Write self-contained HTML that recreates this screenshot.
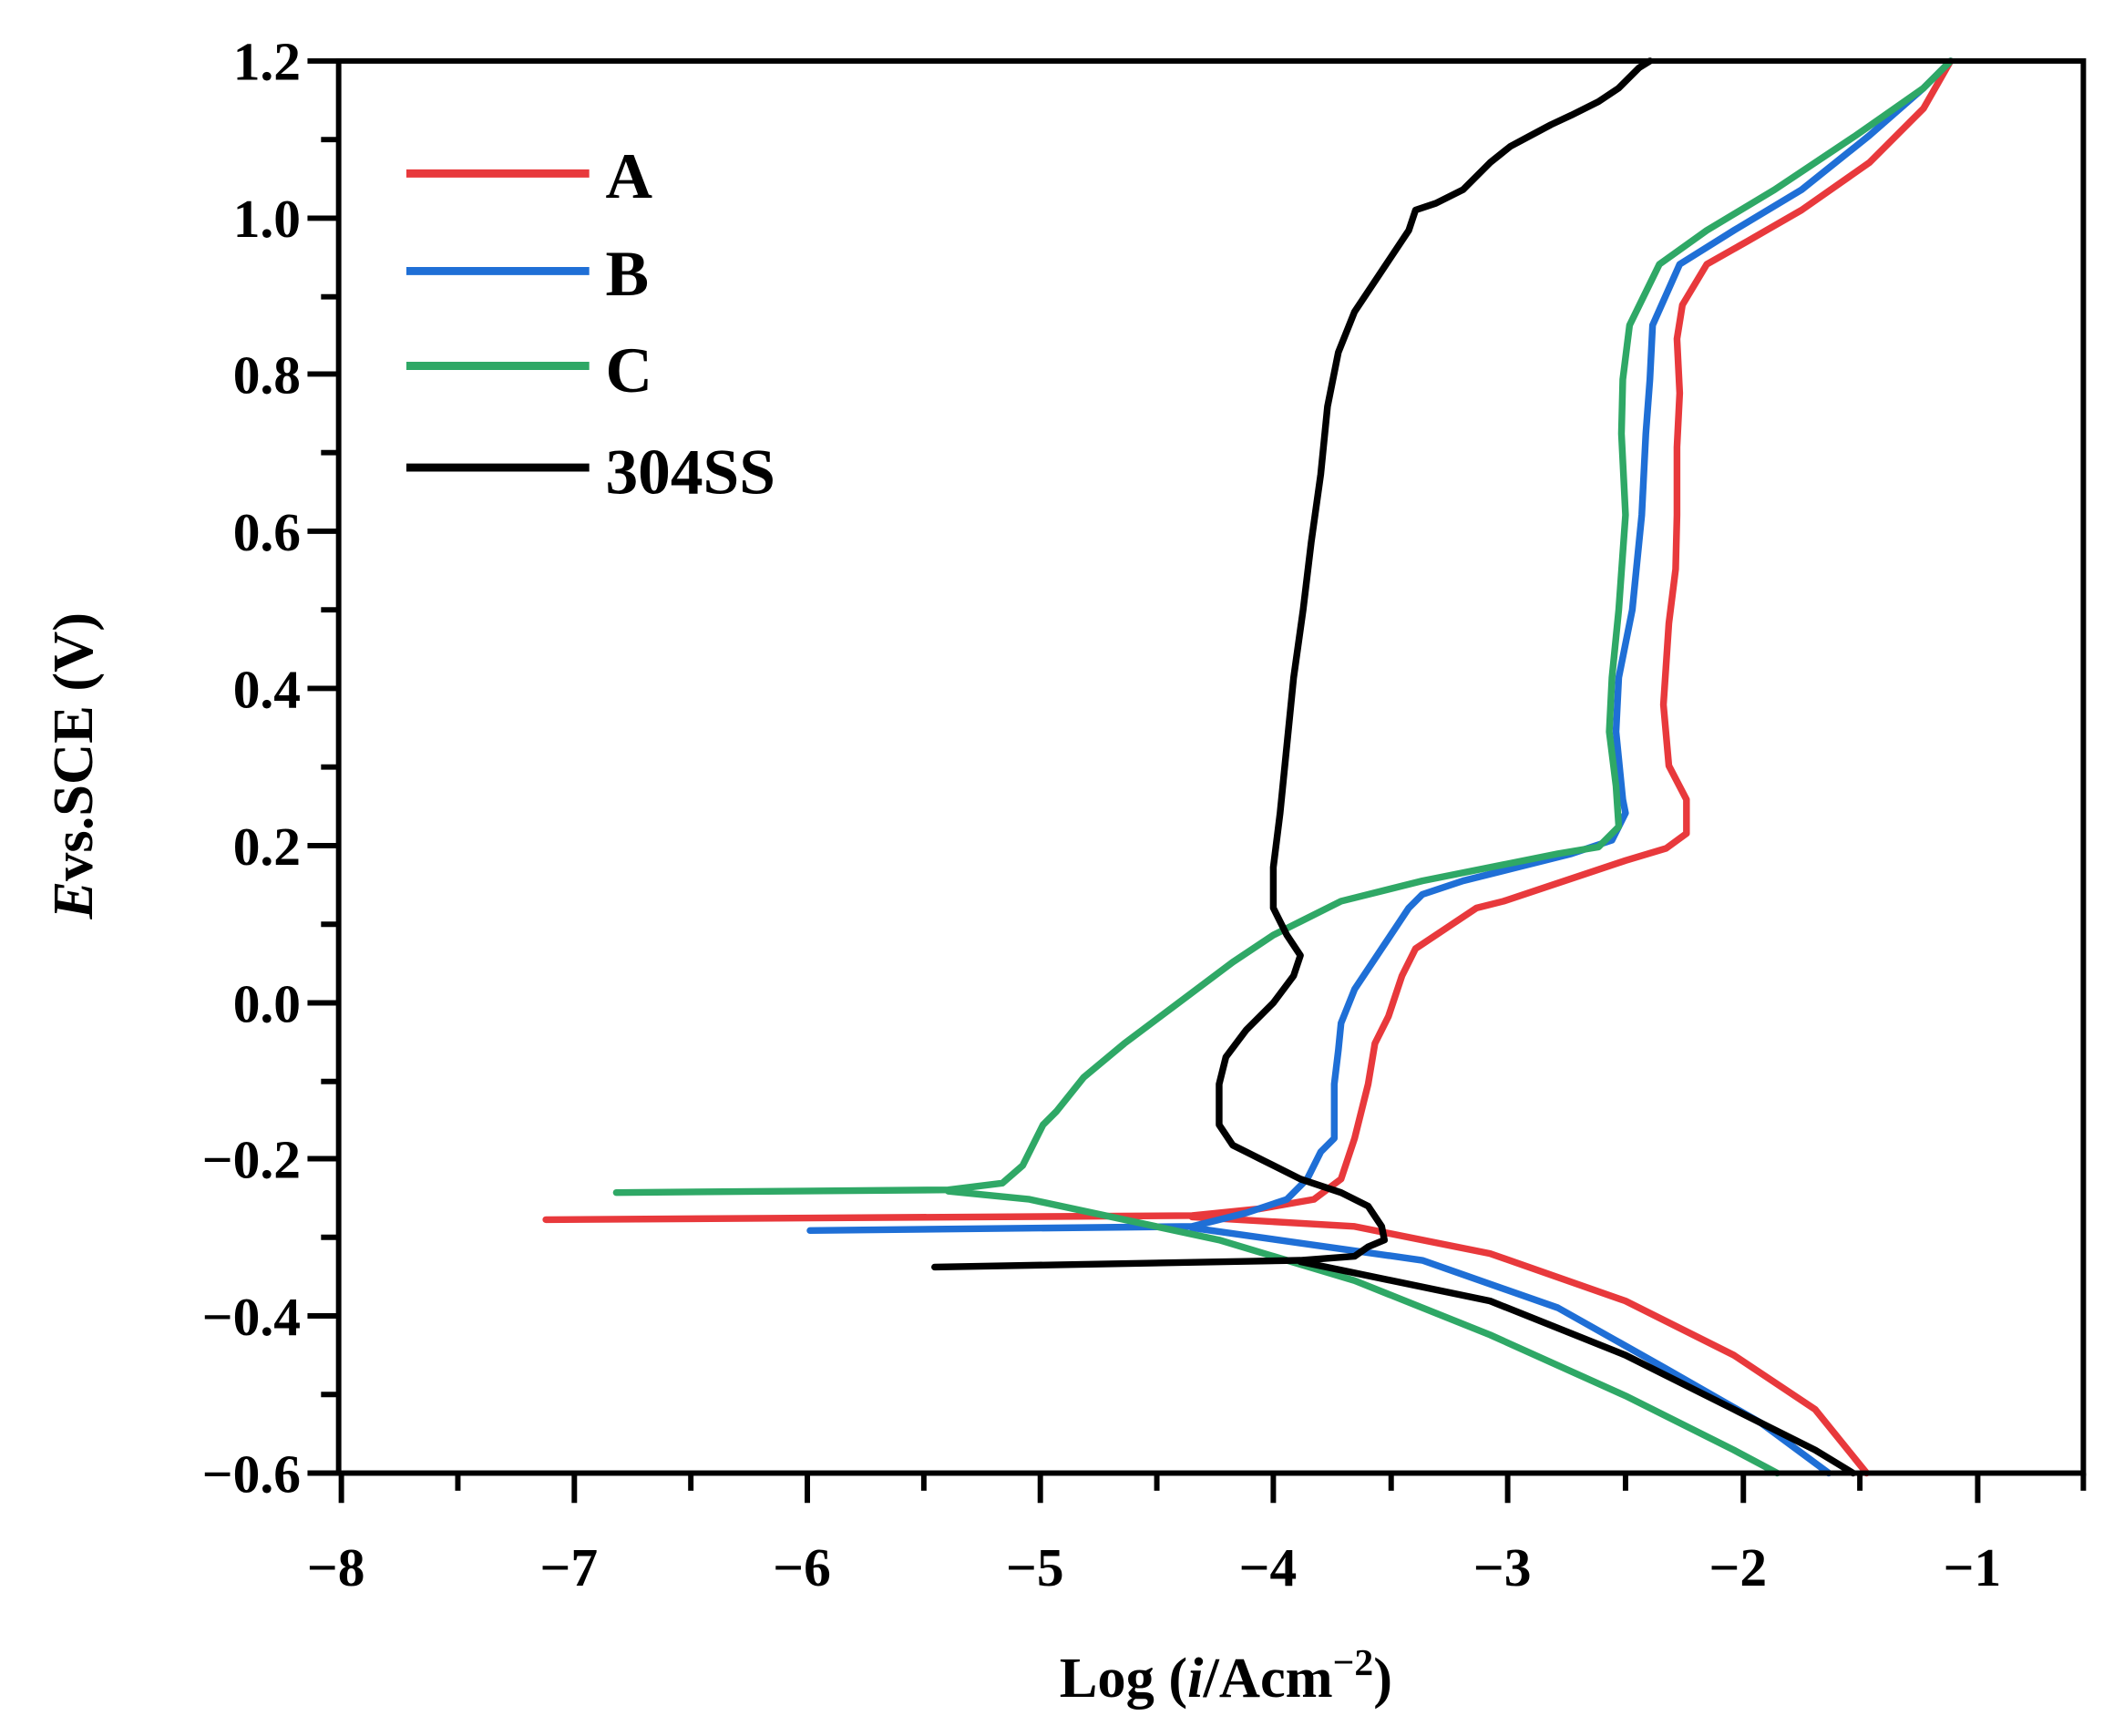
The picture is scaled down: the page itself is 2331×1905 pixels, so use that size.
<!DOCTYPE html>
<html><head><meta charset="utf-8"><style>html,body{margin:0;padding:0;background:#fff}svg{display:block}</style></head>
<body>
<svg width="2331" height="1905" viewBox="0 0 1568 1281" preserveAspectRatio="none" xmlns="http://www.w3.org/2000/svg" font-family="Liberation Serif, serif" font-weight="bold">
<rect width="1568" height="1281" fill="#fff"/>
<g fill="none" stroke-linejoin="round" stroke-linecap="round" stroke-width="5">
<polyline stroke="#e8393c" points="403,900 880,897 930,892 970,885 990,870 1000,840 1010,800 1015,770 1025,750 1035,720 1045,700 1060,690 1075,680 1090,670 1110,665 1140,655 1170,645 1200,635 1230,626 1245,615 1245,590 1232,565 1228,520 1232,460 1237,420 1238,380 1238,330 1240,290 1238,250 1242,225 1260,195 1290,178 1330,155 1380,120 1420,80 1440,45"/>
<polyline stroke="#e8393c" points="880,898 1000,905 1100,925 1200,960 1280,1000 1340,1040 1378,1087"/>
<polyline stroke="#1f6fd6" points="598,908 880,905 920,895 950,885 965,870 975,850 985,840 985,800 988,775 990,755 1000,730 1020,700 1040,670 1050,660 1080,650 1120,640 1160,630 1190,620 1200,600 1198,590 1193,540 1195,500 1205,450 1212,380 1215,320 1218,280 1220,240 1240,195 1280,170 1330,140 1380,100 1420,65 1440,45"/>
<polyline stroke="#1f6fd6" points="880,906 1050,930 1150,965 1230,1010 1300,1050 1350,1087"/>
<polyline stroke="#2fa866" points="455,880 700,878 740,873 755,860 770,830 780,820 800,795 830,770 870,740 910,710 940,690 960,680 990,665 1050,650 1100,640 1150,630 1180,625 1195,610 1193,580 1188,540 1190,500 1195,450 1200,380 1197,320 1198,280 1203,240 1225,195 1260,170 1310,140 1370,100 1420,65 1440,45"/>
<polyline stroke="#2fa866" points="700,879 760,885 900,915 1000,945 1100,985 1200,1030 1280,1070 1312,1087"/>
<polyline stroke="#000" points="690,935 960,930 1000,927 1010,920 1022,915 1020,905 1010,890 990,880 960,870 930,855 910,845 900,830 900,800 905,780 920,760 940,740 955,720 960,705 950,690 940,670 940,640 945,600 950,550 955,500 962,450 968,400 975,350 980,300 988,260 1000,230 1020,200 1040,170 1045,155 1060,150 1080,140 1090,130 1100,120 1115,108 1130,100 1145,92 1160,85 1180,75 1195,65 1210,50 1218,45"/>
<polyline stroke="#000" points="960,931 1100,960 1200,1000 1280,1040 1340,1070 1368,1087"/>
</g>
<rect x="250" y="45" width="1288" height="1042" fill="none" stroke="#000" stroke-width="4"/>
<g stroke="#000" stroke-width="4">
<line x1="227" y1="45" x2="250" y2="45"/><line x1="237" y1="103" x2="250" y2="103"/>
<line x1="227" y1="161" x2="250" y2="161"/><line x1="237" y1="219" x2="250" y2="219"/>
<line x1="227" y1="276" x2="250" y2="276"/><line x1="237" y1="334" x2="250" y2="334"/>
<line x1="227" y1="392" x2="250" y2="392"/><line x1="237" y1="450" x2="250" y2="450"/>
<line x1="227" y1="508" x2="250" y2="508"/><line x1="237" y1="566" x2="250" y2="566"/>
<line x1="227" y1="624" x2="250" y2="624"/><line x1="237" y1="682" x2="250" y2="682"/>
<line x1="227" y1="740" x2="250" y2="740"/><line x1="237" y1="798" x2="250" y2="798"/>
<line x1="227" y1="855" x2="250" y2="855"/><line x1="237" y1="913" x2="250" y2="913"/>
<line x1="227" y1="971" x2="250" y2="971"/><line x1="237" y1="1029" x2="250" y2="1029"/>
<line x1="227" y1="1087" x2="250" y2="1087"/>
<line x1="252" y1="1087" x2="252" y2="1109"/><line x1="338" y1="1087" x2="338" y2="1100"/>
<line x1="424" y1="1087" x2="424" y2="1109"/><line x1="510" y1="1087" x2="510" y2="1100"/>
<line x1="596" y1="1087" x2="596" y2="1109"/><line x1="682" y1="1087" x2="682" y2="1100"/>
<line x1="768" y1="1087" x2="768" y2="1109"/><line x1="854" y1="1087" x2="854" y2="1100"/>
<line x1="940" y1="1087" x2="940" y2="1109"/><line x1="1027" y1="1087" x2="1027" y2="1100"/>
<line x1="1113" y1="1087" x2="1113" y2="1109"/><line x1="1200" y1="1087" x2="1200" y2="1100"/>
<line x1="1287" y1="1087" x2="1287" y2="1109"/><line x1="1373" y1="1087" x2="1373" y2="1100"/>
<line x1="1460" y1="1087" x2="1460" y2="1109"/><line x1="1538" y1="1087" x2="1538" y2="1100"/>
</g>
<g font-size="40" text-anchor="end">
<text x="222" y="59">1.2</text><text x="222" y="175">1.0</text><text x="222" y="290">0.8</text>
<text x="222" y="406">0.6</text><text x="222" y="522">0.4</text><text x="222" y="638">0.2</text>
<text x="222" y="754">0.0</text><text x="222" y="869">−0.2</text><text x="222" y="985">−0.4</text>
<text x="222" y="1101">−0.6</text>
</g>
<g font-size="40" text-anchor="middle">
<text x="248" y="1170">−8</text><text x="420" y="1170">−7</text><text x="592" y="1170">−6</text>
<text x="764" y="1170">−5</text><text x="936" y="1170">−4</text><text x="1109" y="1170">−3</text>
<text x="1283" y="1170">−2</text><text x="1456" y="1170">−1</text>
</g>
<text x="905" y="1252" font-size="42" text-anchor="middle">Log (<tspan font-style="italic">i</tspan>/Acm<tspan font-size="28" dy="-16">−2</tspan><tspan dy="16">)</tspan></text>
<text transform="translate(68,565) rotate(-90)" font-size="42" text-anchor="middle"><tspan font-style="italic">E</tspan>vs.SCE (V)</text>
<g stroke-width="6">
<line x1="300" y1="128" x2="435" y2="128" stroke="#e8393c"/>
<line x1="300" y1="200" x2="435" y2="200" stroke="#1f6fd6"/>
<line x1="300" y1="270" x2="435" y2="270" stroke="#2fa866"/>
<line x1="300" y1="345" x2="435" y2="345" stroke="#000"/>
</g>
<g font-size="48">
<text x="447" y="146">A</text><text x="447" y="218">B</text><text x="447" y="289">C</text><text x="447" y="364">304SS</text>
</g>
</svg>
</body></html>
